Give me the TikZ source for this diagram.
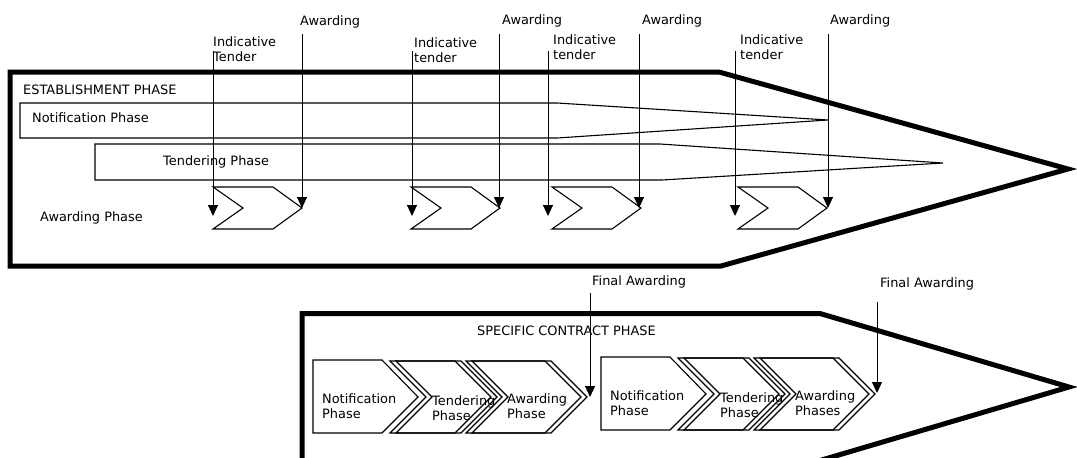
\documentclass[tikz,border=0pt]{standalone}
\usepackage{fontspec}
\setmainfont{DejaVu Sans}
\usetikzlibrary{arrows.meta}

\begin{document}
\begin{tikzpicture}[x=1pt,y=-1pt,
  frame/.style={line width=5pt, line join=miter},
  bar/.style={line width=1.1pt},
  chev/.style={line width=1.1pt},
  lbl/.style={font=\fontsize{12.9}{15.5}\selectfont, inner sep=0pt, anchor=west, align=left},
  pointer/.style={line width=1pt, -{Triangle[width=10pt,length=11pt]}},
]
\useasboundingbox (0,0) rectangle (1077,458);
\clip (0,0) rectangle (1077,458);

% establishment phase outline
\draw[frame] (10,72) -- (719,72) -- (1068,169) -- (721,266) -- (10,266) -- cycle;
\node[lbl] (est) at (23,90) {ESTABLISHMENT PHASE};

% notification and tendering bars
\draw[bar] (20,103) -- (557,103) -- (828,120) -- (557,138) -- (20,138) -- cycle;
\node[lbl] (notif) at (32,118) {Notification Phase};
\draw[bar] (95,144) -- (660,144) -- (943,163) -- (662,180) -- (95,180) -- cycle;
\node[lbl] (tend) at (163,162) {Tendering Phase};
\node[lbl] (awph) at (40,218) {Awarding Phase};

% awarding chevrons with their tender / awarding markers
\foreach \n/\xl/\xi/\xa in {1/213/213/302, 2/411/412/499, 3/552/548/639, 4/738/735/828}
{
  \draw[chev] (\xl,187) -- ++(60,0) -- ++(29,21) -- ++(-29,21) -- ++(-60,0) -- ++(30,-21) -- cycle;
  \coordinate (ind-top-\n) at (\xi,51);
  \coordinate (ind-end-\n) at (\xi,216);
  \coordinate (aw-top-\n) at (\xa,34);
  \coordinate (aw-end-\n) at (\xa,208);
  \draw[pointer] (ind-top-\n) -- (ind-end-\n);
  \draw[pointer] (aw-top-\n) -- (aw-end-\n);
}

\node[lbl] (ind1) at (213,49) {Indicative\\Tender};
\node[lbl] (ind2) at (414,50) {Indicative\\tender};
\node[lbl] (ind3) at (553,47) {Indicative\\tender};
\node[lbl] (ind4) at (740,47) {Indicative\\tender};
\node[lbl] (aw1) at (300,22) {Awarding};
\node[lbl] (aw2) at (502,21) {Awarding};
\node[lbl] (aw3) at (642,21) {Awarding};
\node[lbl] (aw4) at (830,21) {Awarding};

% specific contract phase outline
\draw[frame] (302,313.5) -- (820,313.5) -- (1069,387) -- (820,460.5) -- (302,460.5) -- cycle;
\node[lbl] (spec) at (477,331) {SPECIFIC CONTRACT PHASE};

% two runs of notification / tendering / awarding chevrons
\foreach \dx/\dy/\last/\n in {0/0/Phase/1, 288/-3/Phases/2}
{
  \begin{scope}[shift={(\dx,\dy)}]
    \draw[chev] (313,360) -- (382,360) -- (418,397) -- (382,433) -- (313,433) -- cycle;
    \foreach \l/\r in {390/455, 396/461, 466/545, 472/551}
      \draw[chev] (\l,361) -- (\r,361) -- (\r+36,397) -- (\r,433) -- (\l,433) -- (\l+36,397) -- cycle;
    \node[lbl] (sn\n) at (322,406) {Notification\\Phase};
    \node[lbl] (st\n) at (432,408) {Tendering\\Phase};
    \node[lbl] (sa\n) at (507,406) {Awarding\\\last};
  \end{scope}
}

% final awarding markers
\node[lbl] (fa1) at (592,282) {Final Awarding};
\node[lbl] (fa2) at (880,284) {Final Awarding};
\coordinate (fa-top-1) at (590,293);
\coordinate (fa-end-1) at (590,397);
\coordinate (fa-top-2) at (877,302);
\coordinate (fa-end-2) at (877,393);
\draw[pointer] (fa-top-1) -- (fa-end-1);
\draw[pointer] (fa-top-2) -- (fa-end-2);
\end{tikzpicture}
\end{document}
